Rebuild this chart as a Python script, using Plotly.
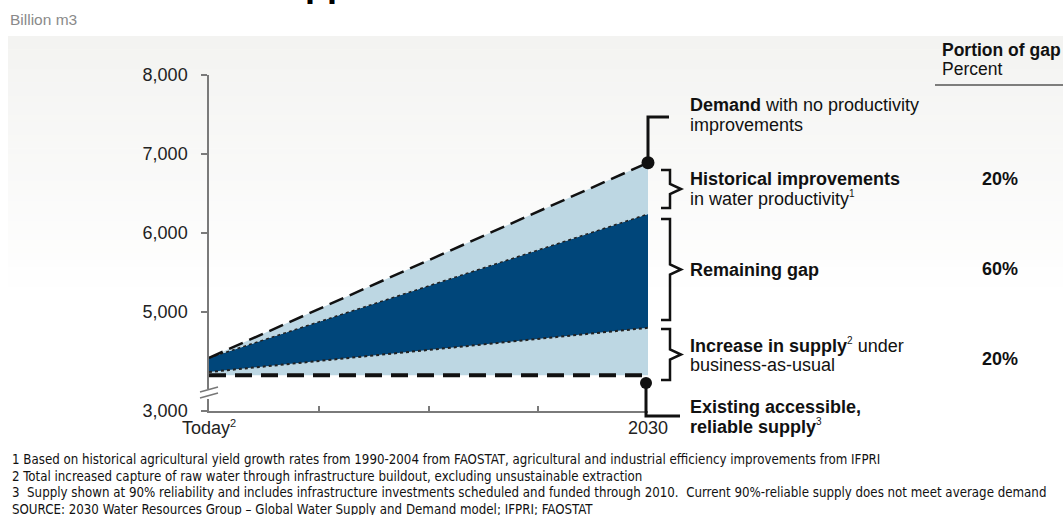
import plotly.graph_objects as go

W, H = 1063, 515
def px(x): return x / W
def py(y): return 1 - y / H

# ---------------- data ----------------
periods = [0, 20]                       # years from today to 2030
x_tick_vals = [0, 5, 10, 15, 20]
x_tick_text = ["Today<sup><span style='font-size:11px'>2</span></sup>", "", "", "", "2030"]
demand_no_productivity = [4420, 6890]
demand_with_historical = [4420, 6240]
supply_with_increase = [4240, 4800]
existing_supply = [4200, 4200]
y_tick_vals = [3747, 5000, 6000, 7000, 8000]   # axis is broken below 4,000
y_tick_text = ["3,000", "5,000", "6,000", "7,000", "8,000"]
portion_of_gap = ["20%", "60%", "20%"]

LIGHT = "#bdd7e3"
DARK = "#00467a"
FONT = "Liberation Sans, Arial, sans-serif"
NARROW = "Liberation Sans Narrow, DejaVu Sans Condensed, Arial Narrow, sans-serif"
TXT = "#111111"

def sup(s):
    return "<sup><span style='font-size:10px'>%s</span></sup>" % s

fig = go.Figure()
# stacked fills
fig.add_trace(go.Scatter(x=periods, y=existing_supply, mode="lines",
                         line=dict(width=0), showlegend=False, hoverinfo="skip"))
fig.add_trace(go.Scatter(x=periods, y=supply_with_increase, mode="lines", fill="tonexty",
                         fillcolor=LIGHT, line=dict(width=0), showlegend=False, hoverinfo="skip"))
fig.add_trace(go.Scatter(x=periods, y=demand_with_historical, mode="lines", fill="tonexty",
                         fillcolor=DARK, line=dict(width=0), showlegend=False, hoverinfo="skip"))
fig.add_trace(go.Scatter(x=periods, y=demand_no_productivity, mode="lines", fill="tonexty",
                         fillcolor=LIGHT, line=dict(width=0), showlegend=False, hoverinfo="skip"))
# boundary lines
fig.add_trace(go.Scatter(x=periods, y=supply_with_increase, mode="lines",
                         line=dict(color="#222", width=2, dash="dot"), showlegend=False))
fig.add_trace(go.Scatter(x=periods, y=demand_with_historical, mode="lines",
                         line=dict(color="#222", width=1.5, dash="dot"), showlegend=False))
fig.add_trace(go.Scatter(x=periods, y=existing_supply, mode="lines",
                         line=dict(color="#111", width=4, dash="17px,9px"), showlegend=False))
fig.add_trace(go.Scatter(x=periods, y=demand_no_productivity, mode="lines",
                         line=dict(color="#111", width=2.5, dash="15px,7px"), showlegend=False))
fig.add_trace(go.Scatter(x=[periods[-1]], y=[demand_no_productivity[-1]], mode="markers",
                         marker=dict(color="#111", size=13), showlegend=False, cliponaxis=False))

shapes = []
# background gradient
top, bot = 36, 300
n = 40
c0 = (243, 243, 241)
for i in range(n):
    t = i / (n - 1)
    c = tuple(round(c0[k] + (255 - c0[k]) * t) for k in range(3))
    y0 = top + (bot - top) * i / n
    y1 = top + (bot - top) * (i + 1) / n
    shapes.append(dict(type="rect", xref="paper", yref="paper", x0=px(8), x1=1,
                       y0=py(y1 + 0.5), y1=py(y0), fillcolor="rgb(%d,%d,%d)" % c,
                       line=dict(width=0), layer="below"))

def path(points):
    return "M " + " L ".join("%f,%f" % (px(x), py(y)) for x, y in points)

BLK = dict(color="#111", width=3)
# demand callout
shapes.append(dict(type="path", xref="paper", yref="paper",
                   path=path([(648, 163), (648, 117), (669, 117)]), line=BLK))
# braces
def brace(y0, y1, xl=661, xv=670, xp=681):
    ym = (y0 + y1) / 2
    return dict(type="path", xref="paper", yref="paper",
                path=path([(xl, y0), (xv, y0), (xv, ym - 5), (xp, ym), (xv, ym + 5), (xv, y1), (xl, y1)]),
                line=dict(color="#111", width=2.5))
shapes.append(brace(170, 208))
shapes.append(brace(219, 320))
shapes.append(brace(329, 380))
# existing supply callout
shapes.append(dict(type="path", xref="paper", yref="paper",
                   path=path([(646, 383), (646, 416), (680, 416)]), line=BLK))
shapes.append(dict(type="circle", xref="paper", yref="paper",
                   x0=px(640), x1=px(652), y0=py(389), y1=py(377),
                   fillcolor="#111", line=dict(width=0)))
# axis break
shapes.append(dict(type="line", xref="paper", yref="paper", x0=px(209), x1=px(209),
                   y0=py(389), y1=py(399), line=dict(color="white", width=4)))
for dy in (0, 6):
    shapes.append(dict(type="line", xref="paper", yref="paper", x0=px(200), x1=px(218),
                       y0=py(392 + dy), y1=py(387 + dy), line=dict(color="#777", width=1.5)))
# header rule
shapes.append(dict(type="line", xref="paper", yref="paper", x0=px(935), x1=1,
                   y0=py(85), y1=py(85), line=dict(color="#555", width=1.5)))

ann = []
def text(x, y, s, size=18, color=TXT, xanchor="left", family=FONT):
    ann.append(dict(x=px(x), y=py(y), xref="paper", yref="paper", text=s, showarrow=False,
                    xanchor=xanchor, yanchor="middle", font=dict(family=family, size=size, color=color)))

text(303, -16, "<b>pp</b>", size=36, color="#000")
text(8, 20, "Billion m3", size=15.5, color="#8a8a8a")
text(940, 50, "<b>Portion of gap</b>", size=17.5)
text(940, 69, "Percent", size=17.5)
text(688, 105, "<b>Demand</b> with no productivity")
text(688, 125, "improvements")
text(688, 179, "<b>Historical improvements</b>")
text(688, 199, "in water productivity" + sup("1"))
text(688, 270, "<b>Remaining gap</b>")
text(688, 345, "<b>Increase in supply</b>" + sup("2") + " under")
text(688, 365, "business-as-usual")
text(688, 407, "<b>Existing accessible,</b>")
text(688, 426, "<b>reliable supply</b>" + sup("3"))
for yy, s in zip([179, 269, 359], portion_of_gap):
    text(1000, yy, "<b>%s</b>" % s, xanchor="center")

notes = [
    "1 Based on historical agricultural yield growth rates from 1990-2004 from FAOSTAT, agricultural and industrial efficiency improvements from IFPRI",
    "2 Total increased capture of raw water through infrastructure buildout, excluding unsustainable extraction",
    "3  Supply shown at 90% reliability and includes infrastructure investments scheduled and funded through 2010.  Current 90%-reliable supply does not meet average demand",
    "SOURCE: 2030 Water Resources Group \u2013 Global Water Supply and Demand model; IFPRI; FAOSTAT",
]
for yy, s in zip([459, 476, 492, 509], notes):
    text(10, yy, s, size=13.2, family=NARROW)

fig.update_layout(
    template="none",
    width=W, height=H, margin=dict(l=0, r=0, t=0, b=0, pad=0, autoexpand=False),
    paper_bgcolor="white", plot_bgcolor="rgba(0,0,0,0)",
    showlegend=False, shapes=shapes, annotations=ann,
    xaxis=dict(domain=[px(209), px(648)], range=[0, 20], tickvals=x_tick_vals, ticktext=x_tick_text,
               showline=True, linecolor="#7a7a7a", linewidth=1.5, ticks="inside", ticklen=5,
               tickcolor="#7a7a7a", tickwidth=1.5, showgrid=False, zeroline=False, automargin=False,
               tickfont=dict(family=FONT, size=18, color="#222"), fixedrange=True),
    yaxis=dict(domain=[py(411), py(75)], range=[3747, 8000], tickvals=y_tick_vals, ticktext=y_tick_text,
               showline=True, linecolor="#7a7a7a", linewidth=1.5, ticks="outside", ticklen=6,
               tickcolor="#7a7a7a", tickwidth=1.5, showgrid=False, zeroline=False, automargin=False,
               tickfont=dict(family=FONT, size=18, color="#222"), ticklabelstandoff=10, fixedrange=True),
)
fig.write_html("out.html", config={"displayModeBar": False},
               post_script="document.body.style.margin='0';document.body.style.overflow='hidden';")
